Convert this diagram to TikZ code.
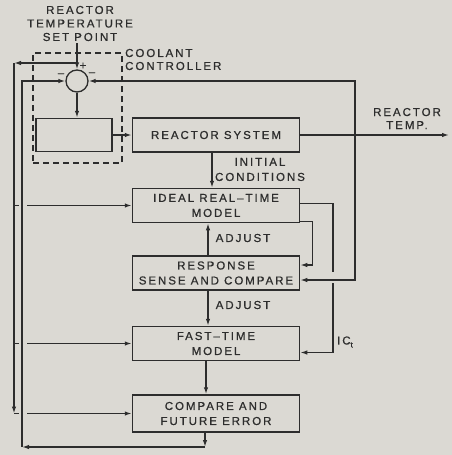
\documentclass[tikz,border=0pt]{standalone}
\usepackage{fontspec}
\setmainfont{Liberation Sans}[LetterSpace=17, FakeBold=0.7]
\usepackage{tikz}
\usetikzlibrary{positioning,arrows.meta,calc}
\definecolor{paper}{RGB}{219,217,211}
\definecolor{ink}{RGB}{45,45,45}

\begin{document}
\begin{tikzpicture}[
    x=1pt, y=-1pt,
    every node/.style={font=\fontsize{11.5}{15}\selectfont, text=ink},
    box/.style={draw=ink, line width=1.5pt, rectangle, minimum height=34pt,
                minimum width=167pt, align=center, inner sep=0pt},
    dashbox/.style={draw=ink, line width=1.2pt, dash pattern=on 6pt off 4pt,
                    minimum width=89pt, minimum height=110pt, inner sep=0pt},
    lbl/.style={align=center, inner sep=0pt},
    wire/.style={draw=ink, line width=1.35pt},
    arr/.style={wire, -{Latex[length=7pt,width=4.5pt]}},
  ]
  \path[use as bounding box, fill=paper] (0,0) rectangle (452,455);

  \node[lbl, font=\fontsize{11.5}{13.5}\selectfont] (setpt) at (80,23.5)
    {REACTOR\\TEMPERATURE\\SET POINT};
  \node[dashbox] (coolant) at (77.5,108) {};
  \node[lbl, align=left, anchor=west, font=\fontsize{11.5}{13}\selectfont]
    (coollbl) at (125,59.5) {COOLANT\\CONTROLLER};
  \node[draw=ink, line width=1.3pt, circle, minimum size=22pt, inner sep=0pt]
    (sum) at (77,81) {};
  \node[lbl] (plus) at (83,66) {+};
  \node[lbl] (mnsl) at (61,75) {–};
  \node[lbl] (mnsr) at (92,74) {–};
  \node[box, minimum width=76pt, minimum height=33pt] (ctrl) at (74,135) {};

  \node[box] (reactor) at (216,135) {REACTOR SYSTEM};
  \node[box, below=35pt of reactor] (ideal) {IDEAL REAL–TIME\\MODEL};
  \node[box, below=32pt of ideal] (resp) {RESPONSE\\SENSE AND COMPARE};
  \node[box, below=35pt of resp] (fast) {FAST–TIME\\MODEL};
  \node[box, minimum height=37pt, below=33pt of fast] (cmpr)
    {COMPARE AND\\FUTURE ERROR};

  \node[lbl] (initc) at (260,169.5) {INITIAL\\CONDITIONS};
  \node[lbl] (adjup) at (243,238) {ADJUST};
  \node[lbl] (adjdn) at (243,305) {ADJUST};
  \node[lbl, font=\fontsize{11.5}{13}\selectfont] (rtemp) at (407,118.5)
    {REACTOR\\TEMP.};
  \node[lbl] (ict) at (345,342) {IC\raisebox{-3pt}{\footnotesize t}};

  \coordinate (spfoot) at (77,43);
  \coordinate (sptap) at (77,63);
  \coordinate (lone) at (14,63);
  \coordinate (fbtap) at (355,135);
  \coordinate (tempend) at (449,135);
  \coordinate (icgapa) at (333,272);
  \coordinate (icgapb) at (333,283);
  \coordinate (cmprdn) at (205,447);
  \coordinate (ltwo) at (22,447);

  \draw[arr] (spfoot) -- (sum.north);
  \draw[arr] (sptap) -- (lone);
  \draw[arr] (lone) -- (lone |- cmpr.west);
  \draw[wire] (lone |- ideal.west) -- ++(5,0);
  \draw[arr] ($(lone |- ideal.west)+(13,0)$) -- (ideal.west);
  \draw[wire] (lone |- fast.west) -- ++(5,0);
  \draw[arr] ($(lone |- fast.west)+(13,0)$) -- (fast.west);
  \draw[wire] (lone |- cmpr.west) -- ++(5,0);
  \draw[arr] ($(lone |- cmpr.west)+(13,0)$) -- (cmpr.west);

  \draw[arr] (sum.south) -- (sum.south |- ctrl.north);
  \draw[arr] (ctrl) -- (reactor);
  \draw[arr] (reactor.east) -- (tempend);
  \draw[arr] (fbtap) |- (sum.east);
  \draw[arr] (fbtap) |- ($(resp.east)+(0,7)$);

  \draw[arr] ([xshift=-4pt]reactor.south) -- ([xshift=-4pt]reactor.south |- ideal.north);
  \draw[arr] ([xshift=-8pt]resp.north) -- ([xshift=-8pt]resp.north |- ideal.south);
  \draw[arr] ([xshift=-8pt]resp.south) -- ([xshift=-8pt]resp.south |- fast.north);
  \draw[arr] ([xshift=-10pt]fast.south) -- ([xshift=-10pt]fast.south |- cmpr.north);
  \draw[arr] ([xshift=-11pt]cmpr.south) -- (cmprdn);
  \draw[arr] (cmprdn) -- (ltwo);
  \draw[arr] (ltwo) |- (sum.west);

  \draw[wire] ($(ideal.east)+(0,-2)$) -| (icgapa);
  \draw[arr] (icgapb) |- ($(fast.east)+(0,9)$);
  \draw[arr] ($(ideal.south east)+(0,-2)$) -- ++(12,0) |- ($(resp.east)+(0,-8)$);
\end{tikzpicture}
\end{document}
